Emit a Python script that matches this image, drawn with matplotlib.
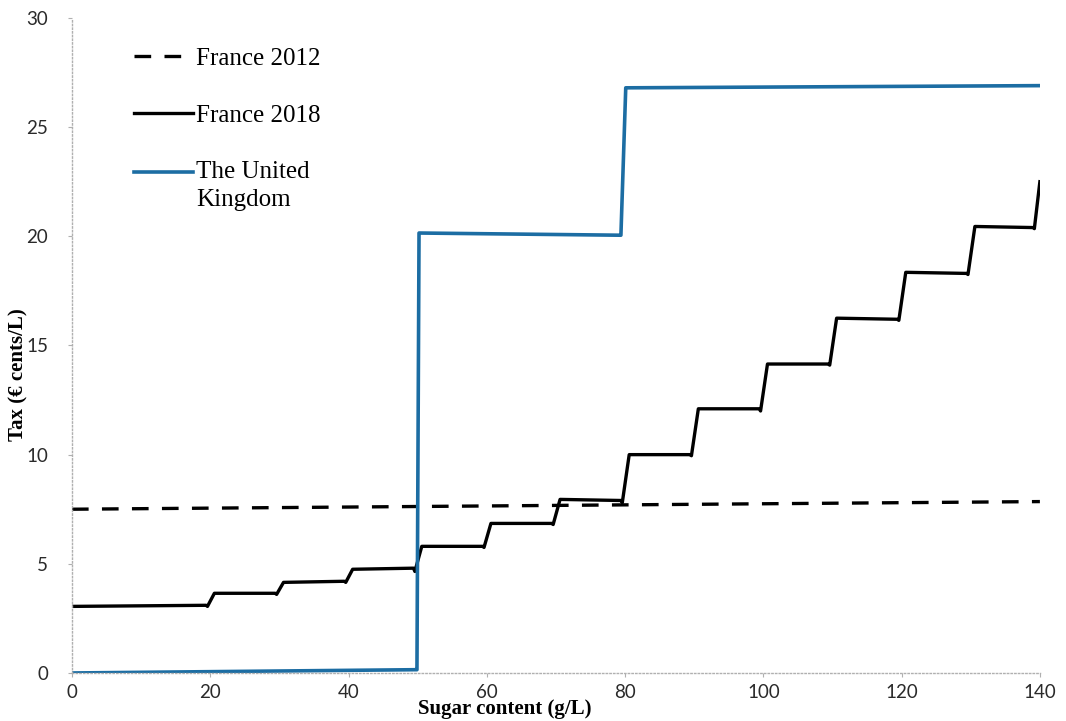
import matplotlib
matplotlib.use("Agg")
import matplotlib.pyplot as plt

plt.rcParams['font.family'] = ['Liberation Serif', 'DejaVu Serif']

# France 2012 (dashed, almost flat)
f12_x = [0, 140]
f12_y = [7.5, 7.85]

# France 2018 (staircase, small dip before each jump)
f18_x = [0, 19.4, 19.6, 20.6,
         29.4, 29.6, 30.6,
         39.4, 39.6, 40.6,
         49.4, 49.6, 50.6,
         59.4, 59.6, 60.6,
         69.4, 69.6, 70.6,
         79.4, 79.6, 80.6,
         89.4, 89.6, 90.6,
         99.4, 99.6, 100.6,
         109.4, 109.6, 110.6,
         119.4, 119.6, 120.6,
         129.4, 129.6, 130.6,
         139.0, 139.2, 140.0]
f18_y = [3.05, 3.1, 3.05, 3.65,
         3.65, 3.6, 4.15,
         4.2, 4.15, 4.75,
         4.8, 4.65, 5.8,
         5.8, 5.75, 6.85,
         6.85, 6.8, 7.95,
         7.9, 7.8, 10.0,
         10.0, 9.95, 12.1,
         12.1, 12.0, 14.15,
         14.15, 14.1, 16.25,
         16.2, 16.15, 18.35,
         18.3, 18.25, 20.45,
         20.4, 20.35, 22.5]

# United Kingdom
uk_x = [0, 49.6, 49.9, 50.2, 79.2, 79.4, 80.1, 140]
uk_y = [0.0, 0.15, 0.15, 20.15, 20.05, 20.05, 26.8, 26.9]

fig = plt.figure(figsize=(10.66, 7.21), dpi=100)
ax = fig.add_axes([0.0675, 0.0666, 0.908, 0.9085])

ax.plot(f12_x, f12_y, color='black', linewidth=2.4, linestyle=(0, (5, 4)),
        label='France 2012')
ax.plot(f18_x, f18_y, color='black', linewidth=2.4, label='France 2018')
ax.plot(uk_x, uk_y, color='#1c6da3', linewidth=2.6,
        label='The United\nKingdom')

ax.set_xlim(0, 140)
ax.set_ylim(0, 30)
ax.set_xticks(range(0, 141, 20))
ax.set_yticks(range(0, 31, 5))

for s in ['top', 'right']:
    ax.spines[s].set_visible(False)
for s in ['left', 'bottom']:
    ax.spines[s].set_color('#b0b0b0')
    ax.spines[s].set_linestyle(':')
    ax.spines[s].set_linewidth(1.0)

ax.tick_params(axis='both', colors='#b0b0b0', labelcolor='#2a2a2a',
               length=3, width=0.8)
ax.tick_params(axis='y', pad=14)
ax.tick_params(axis='x', pad=5)
for lab in ax.get_xticklabels() + ax.get_yticklabels():
    lab.set_fontfamily(['Lato', 'DejaVu Sans'])
    lab.set_fontsize(13.5)

ax.set_xlabel('Sugar content (g/L)', fontsize=15, fontweight='bold')
ax.xaxis.set_label_coords(0.447, -0.040)
ax.set_ylabel('Tax (€ cents/L)', fontsize=15, fontweight='bold')
ax.yaxis.set_label_coords(-0.045, 0.455)

leg = ax.legend(loc='upper left', bbox_to_anchor=(0.064, 0.955), frameon=False,
                fontsize=18, handlelength=2.35, handletextpad=0.15,
                labelspacing=1.38, borderpad=0, borderaxespad=0)
for t in leg.get_texts():
    t.set_linespacing(1.3)
# UK handle sits next to the first line of its two-line label
uk_handle = leg.get_lines()[2]
hy = uk_handle.get_ydata()
uk_handle.set_ydata([v + 10 for v in hy])

fig.savefig('out.png', dpi=100)
